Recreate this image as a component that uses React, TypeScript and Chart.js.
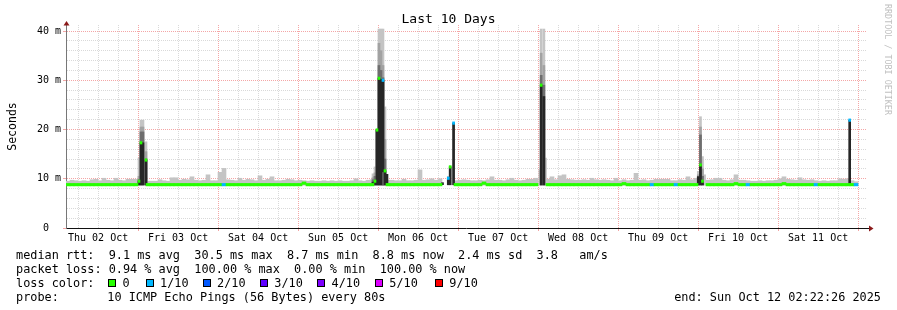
import React, { useEffect, useRef } from "react";
import { Chart, registerables } from "chart.js";

Chart.register(...registerables);

// ---------- time axis: hours since Thu 02 Oct 00:00 ----------
const startHour = 2.374; // Thu Oct 02 02:22:26 2025
const endHour = 242.374; // Sun Oct 12 02:22:26 2025
const bucketHours = 1.2;

const dayLabels = [
  "Thu 02 Oct", "Fri 03 Oct", "Sat 04 Oct", "Sun 05 Oct", "Mon 06 Oct",
  "Tue 07 Oct", "Wed 08 Oct", "Thu 09 Oct", "Fri 10 Oct", "Sat 11 Oct",
];
const dayLabelHours = [12, 36, 60, 84, 108, 132, 156, 180, 204, 228];
const gridHours = [
  6, 12, 18, 24, 30, 36, 42, 48, 54, 60, 66, 72, 78, 84, 90, 96, 102, 108, 114, 120,
  126, 132, 138, 144, 150, 156, 162, 168, 174, 180, 186, 192, 198, 204, 210, 216, 222, 228, 234, 240,
];
const majorGridHours = [24, 48, 72, 96, 120, 144, 168, 192, 216, 240];

const yGridValues = [0, 2, 4, 6, 8, 10, 12, 14, 16, 18, 20, 22, 24, 26, 28, 30, 32, 34, 36, 38, 40];
const yLabelValues = [0, 10, 20, 30, 40];
const yLabels = ["0  ", "10 m", "20 m", "30 m", "40 m"];
const yMax = 41.22;

// ---------- smoke / median per 1.2 h bucket (ms) ----------
const minRtt = 8.7;
const smokeTop = [
  9.5, 9.7, 9.6, 9.5, 9.6, 9.5, 9.8, 9.9, 9.6, 10.1,
  9.7, 9.6, 10.1, 9.7, 9.6, 9.9, 9.9, 9.9, null, null,
  9.5, 9.5, 9.5, 9.8, 9.6, 9.5, 10.2, 10.2, 9.7, 9.9,
  9.8, 10.4, 9.7, 9.6, 9.7, 10.8, 9.6, 9.6, 11.3, 12.1,
  9.8, 9.7, 9.6, 10.1, 9.7, 9.9, 9.8, 9.6, 10.6, 9.7,
  9.9, 10.4, 9.6, 9.6, 9.7, 9.9, 9.8, 9.6, 9.7, 9.6,
  9.5, 9.6, 9.5, 9.5, 9.6, 9.5, 9.6, 9.5, 9.6, 9.5,
  9.5, 9.6, 10.0, 9.6, 9.5, 9.7, 9.8, null, null, null,
  9.7, 9.7, 9.6, 9.6, 9.9, 9.6, 9.6, 9.7, 11.8, 9.7,
  9.8, 10.0, 9.7, 10.0, null, null, null, 9.6, 9.7, 9.8,
  9.7, 9.6, 9.6, 9.7, 9.6, 9.8, 10.4, 9.7, 9.7, 9.6,
  9.8, 10.1, 9.7, 9.6, 9.7, 9.9, 9.9, 10.1, null, null,
  9.9, 10.4, 9.8, 10.6, 10.8, 9.9, 9.8, 9.7, 9.7, 9.8,
  9.7, 10.1, 9.8, 9.7, 9.8, 9.7, 9.6, 10.1, 9.6, 9.8,
  9.6, 9.7, 11.1, 9.7, 9.8, 9.6, 9.7, 9.9, 9.9, 9.9,
  9.9, 9.6, 9.6, 9.8, 9.7, 10.4, 9.8, 10.1, null, null,
  9.7, 9.8, 10.1, 10.1, 9.7, 9.6, 9.8, 10.8, 9.7, 9.7,
  9.6, 9.5, 9.5, 9.6, 9.5, 9.6, 9.6, 9.7, 10.0, 10.4,
  9.9, 9.8, 9.7, 10.2, 9.8, 9.7, 9.8, 9.6, 9.5, 9.6,
  9.5, 9.6, 9.6, 10.0, 9.9, 10.0, 9.6, 9.4,
];
const medianRtt = [
  8.8, 8.8, 8.8, 8.8, 8.8, 8.8, 8.8, 8.8, 8.8, 8.8,
  8.8, 8.8, 8.8, 8.8, 8.8, 8.8, 8.8, 8.8, null, null,
  8.8, 8.8, 8.8, 8.8, 8.8, 8.8, 8.8, 8.8, 8.8, 8.8,
  8.8, 8.8, 8.8, 8.8, 8.8, 8.8, 8.8, 8.8, 8.8, 8.8,
  8.8, 8.8, 8.8, 8.8, 8.8, 8.8, 8.8, 8.8, 8.8, 8.8,
  8.8, 8.8, 8.8, 8.8, 8.8, 8.8, 8.8, 8.8, 8.8, 9.1,
  8.8, 8.8, 8.8, 8.8, 8.8, 8.8, 8.8, 8.8, 8.8, 8.8,
  8.8, 8.8, 8.8, 8.8, 8.8, 8.8, 8.8, null, null, null,
  8.8, 8.8, 8.8, 8.8, 8.8, 8.8, 8.8, 8.8, 8.8, 8.8,
  8.8, 8.8, 8.8, 8.8, null, null, null, 8.8, 8.8, 8.8,
  8.8, 8.8, 8.8, 8.8, 9.1, 8.8, 8.8, 8.8, 8.8, 8.8,
  8.8, 8.8, 8.8, 8.8, 8.8, 8.8, 8.8, 8.8, null, null,
  8.8, 8.8, 8.8, 8.8, 8.8, 8.8, 8.8, 8.8, 8.8, 8.8,
  8.8, 8.8, 8.8, 8.8, 8.8, 8.8, 8.8, 8.8, 8.8, 9.0,
  8.8, 8.8, 8.8, 8.8, 8.8, 8.8, 8.8, 8.8, 8.8, 8.8,
  8.8, 8.8, 8.8, 8.8, 8.8, 8.8, 8.8, 8.8, null, null,
  8.8, 8.8, 8.8, 8.8, 8.8, 8.8, 8.8, 9.0, 8.8, 8.8,
  8.8, 8.8, 8.8, 8.8, 8.8, 8.8, 8.8, 8.8, 8.8, 9.0,
  8.8, 8.8, 8.8, 8.8, 8.8, 8.8, 8.8, 8.8, 8.8, 8.8,
  8.8, 8.8, 8.8, 8.8, 8.8, 8.8, 8.8, 8.8,
];
const lossCount = [
  0, 0, 0, 0, 0, 0, 0, 0, 0, 0,
  0, 0, 0, 0, 0, 0, 0, 0, 0, 0,
  0, 0, 0, 0, 0, 0, 0, 0, 0, 0,
  0, 0, 0, 0, 0, 0, 0, 0, 0, 1,
  0, 0, 0, 0, 0, 0, 0, 0, 0, 0,
  0, 0, 0, 0, 0, 0, 0, 0, 0, 0,
  0, 0, 0, 0, 0, 0, 0, 0, 0, 0,
  0, 0, 0, 0, 0, 0, 0, 0, 0, 0,
  0, 0, 0, 0, 0, 0, 0, 0, 0, 0,
  0, 0, 0, 0, 0, 0, 0, 0, 0, 0,
  0, 0, 0, 0, 0, 0, 0, 0, 0, 0,
  0, 0, 0, 0, 0, 0, 0, 0, 0, 0,
  0, 0, 0, 0, 0, 0, 0, 0, 0, 0,
  0, 0, 0, 0, 0, 0, 0, 0, 0, 0,
  0, 0, 0, 0, 0, 0, 1, 0, 0, 0,
  0, 0, 1, 0, 0, 0, 0, 0, 0, 0,
  0, 0, 0, 0, 0, 0, 0, 0, 0, 0,
  1, 0, 0, 0, 0, 0, 0, 0, 0, 0,
  0, 0, 0, 0, 0, 0, 0, 1, 0, 0,
  0, 0, 0, 0, 0, 0, 0, 1,
];

// ---------- latency spikes (fine columns) ----------
const spikeHours = [
  24.27, 24.87, 25.47, 26.37,
  94.47, 95.07, 95.67, 96.27, 96.87, 97.47, 98.07, 98.67,
  115.32, 117.06, 117.63, 118.65,
  144.51, 144.93, 145.74, 146.22,
  192.06, 192.72, 193.32, 193.95,
  237.48,
];
const spikeLightTop = [
  14.2, 21.9, 21.9, 17.5,
  11.0, 12.4, 19.9, 40.4, 40.4, 40.4, 24.6, 9.6,
  null, 10.5, 12.6, 21.3,
  11.8, 40.4, 40.4, 14.2,
  11.5, 22.6, 14.5, 10.8,
  null,
];
const spikeMidTop = [
  10.5, 20.5, 20.5, 15.5,
  10.2, 11.2, 19.9, 37.5, 36.0, 33.0, 18.0, null,
  null, null, null, null,
  null, 35.5, 33.0, null,
  10.8, 20.5, 12.0, null,
  null,
];
const spikeDarkTop = [
  9.8, 19.5, 19.5, 14.0,
  9.8, 10.5, 19.9, 33.0, 32.0, 30.5, 14.0, null,
  null, null, null, null,
  null, 31.0, 29.0, null,
  10.5, 18.9, 10.5, null,
  null,
];
const spikeCoreLow = [
  8.8, 8.8, 8.8, 8.8,
  8.8, 8.8, 8.8, 8.8, 8.8, 11.4, 8.8, 8.8,
  8.8, 8.8, 8.8, 8.8,
  null, 8.8, 8.8, null,
  8.8, 8.8, 8.8, null,
  8.8,
];
const spikeMedian = [
  9.5, 17.3, 17.3, 13.8,
  9.3, 9.5, 19.9, 30.4, 30.2, 30.0, 11.6, 10.9,
  9.2, 10.1, 12.4, 21.3,
  null, 29.0, 26.7, null,
  10.4, 12.8, 9.5, null,
  21.9,
];
const spikeLoss = [
  0, 0, null, 0,
  null, 0, 0, 0, null, 1, 0, null,
  null, 1, 0, 1,
  null, 0, null, null,
  null, 0, 0, null,
  1,
];

// ---------- legend ----------
const statLines = [
  "median rtt:  9.1 ms avg  30.5 ms max  8.7 ms min  8.8 ms now  2.4 ms sd  3.8   am/s",
  "packet loss: 0.94 % avg  100.00 % max  0.00 % min  100.00 % now",
];
const lossLegendLabels = ["0", "1/10", "2/10", "3/10", "4/10", "5/10", "9/10"];
const lossLegendColors = ["#26ff00", "#00b8ff", "#0059ff", "#5e00ff", "#7e00ff", "#dd00ff", "#ff0000"];
const probeText = "10 ICMP Echo Pings (56 Bytes) every 80s";
const endText = "end: Sun Oct 12 02:22:26 2025";
const titleText = "Last 10 Days";
const yAxisTitle = "Seconds";
const watermark = "RRDTOOL / TOBI OETIKER";

const MONO = '"DejaVu Sans Mono", monospace';
const MAJOR_GRID = "#f4a6a6";
const MINOR_GRID = "#d9d9d9";

function lossColor(n: number | null | undefined): string {
  if (n == null) return lossLegendColors[0];
  return lossLegendColors[n <= 5 ? n : 6];
}

function buildDatasets() {
  const bucketX = smokeTop.map((_, i) => startHour + bucketHours * (i + 0.5));
  const smoke = smokeTop
    .map((v, i) => (v == null ? null : { x: bucketX[i], y: [minRtt, v] }))
    .filter(Boolean);
  const median = medianRtt
    .map((v, i) => (v == null ? null : { x: bucketX[i], y: [v - 0.25, v + 0.25], loss: lossCount[i] }))
    .filter(Boolean);
  const col = (tops: (number | null)[]) =>
    tops.map((v, i) => (v == null ? null : { x: spikeHours[i], y: [minRtt, v] })).filter(Boolean);
  const core = spikeMedian
    .map((v, i) =>
      v == null || spikeCoreLow[i] == null ? null : { x: spikeHours[i], y: [spikeCoreLow[i], v] }
    )
    .filter(Boolean);
  const dots = spikeMedian
    .map((v, i) =>
      v == null || spikeLoss[i] == null ? null : { x: spikeHours[i], y: [v - 0.25, v + 0.25], loss: spikeLoss[i] }
    )
    .filter(Boolean);

  const common = { grouped: false, borderWidth: 0 };
  return [
    { label: "smoke", data: smoke, backgroundColor: "#c4c4c4", barThickness: 4, order: 7, ...common },
    { label: "spike smoke", data: col(spikeLightTop), backgroundColor: "#c4c4c4", barThickness: 2, order: 6, ...common },
    { label: "spike smoke mid", data: col(spikeMidTop), backgroundColor: "#a2a2a2", barThickness: 2, order: 5, ...common },
    { label: "spike smoke dark", data: col(spikeDarkTop), backgroundColor: "#6e6e6e", barThickness: 2, order: 4, ...common },
    { label: "spike core", data: core, backgroundColor: "#262626", barThickness: 2, order: 3, ...common },
    {
      label: "median",
      data: median,
      backgroundColor: (c: any) => lossColor(c.raw ? c.raw.loss : 0),
      barThickness: 4,
      order: 2,
      ...common,
    },
    {
      label: "spike median",
      data: dots,
      backgroundColor: (c: any) => lossColor(c.raw ? c.raw.loss : 0),
      barThickness: 2,
      order: 1,
      ...common,
    },
  ];
}

const decorations = {
  id: "decorations",
  afterDraw(chart: any) {
    const { ctx, chartArea } = chart;
    const L = chartArea.left;
    const B = chartArea.bottom;
    ctx.save();
    // axis extension + arrows
    ctx.strokeStyle = "#111";
    ctx.lineWidth = 1;
    ctx.beginPath();
    ctx.moveTo(chartArea.right, B + 0.5);
    ctx.lineTo(chartArea.right + 3, B + 0.5);
    ctx.stroke();
    ctx.fillStyle = "#8b1a1a";
    ctx.beginPath();
    ctx.moveTo(L - 2.5, chartArea.top + 0.5);
    ctx.lineTo(L + 3.5, chartArea.top + 0.5);
    ctx.lineTo(L + 0.5, chartArea.top - 4);
    ctx.closePath();
    ctx.fill();
    ctx.beginPath();
    ctx.moveTo(chartArea.right + 3, B - 2.5);
    ctx.lineTo(chartArea.right + 3, B + 3.5);
    ctx.lineTo(chartArea.right + 7.5, B + 0.5);
    ctx.closePath();
    ctx.fill();

    // title
    ctx.fillStyle = "#000";
    ctx.textBaseline = "alphabetic";
    ctx.font = `13px ${MONO}`;
    ctx.textAlign = "center";
    ctx.fillText(titleText, 448.5, 23);

    // y axis title
    ctx.save();
    ctx.translate(15.5, (chartArea.top + chartArea.bottom) / 2);
    ctx.rotate(-Math.PI / 2);
    ctx.font = `11.5px ${MONO}`;
    ctx.textAlign = "center";
    ctx.fillText(yAxisTitle, 0, 0);
    ctx.restore();

    // watermark
    ctx.save();
    ctx.translate(885, 4);
    ctx.rotate(Math.PI / 2);
    ctx.font = `8.4px ${MONO}`;
    ctx.fillStyle = "#c0c0c0";
    ctx.textAlign = "left";
    ctx.fillText(watermark, 0, 0);
    ctx.restore();

    // legend
    ctx.font = `11.85px ${MONO}`;
    ctx.fillStyle = "#000";
    ctx.textAlign = "left";
    ctx.fillText(statLines[0], 16, 258.5);
    ctx.fillText(statLines[1], 16, 272.5);
    ctx.fillText("loss color:", 16, 286.5);
    const boxX = [108.3, 145.7, 202.7, 260, 317.3, 375, 435];
    lossLegendLabels.forEach((lab, i) => {
      const bx = Math.round(boxX[i]);
      ctx.fillStyle = lossLegendColors[i];
      ctx.fillRect(bx, 279, 8, 8);
      ctx.strokeStyle = "#000";
      ctx.lineWidth = 1;
      ctx.strokeRect(bx + 0.5, 279.5, 7, 7);
      ctx.fillStyle = "#000";
      ctx.fillText(lab, boxX[i] + 14.3, 286.5);
    });
    ctx.fillText("probe:", 16, 300.5);
    ctx.fillText(probeText, 107.3, 300.5);
    ctx.textAlign = "right";
    ctx.fillText(endText, 881, 300.5);
    ctx.restore();
  },
};

export default function App() {
  const ref = useRef<HTMLCanvasElement>(null);
  useEffect(() => {
    const canvas = ref.current;
    if (!canvas) return;
    const chart = new Chart(canvas, {
      type: "bar",
      data: { datasets: buildDatasets() as any },
      options: {
        animation: false,
        responsive: false,
        devicePixelRatio: 1,
        events: [],
        layout: { padding: { left: 0, right: 31, top: 25, bottom: 0 } },
        plugins: { legend: { display: false }, tooltip: { enabled: false }, title: { display: false } },
        scales: {
          x: {
            type: "linear",
            min: startHour,
            max: endHour,
            offset: false,
            afterBuildTicks: (s: any) => {
              s.ticks = gridHours.map((v) => ({ value: v }));
            },
            afterFit: (s: any) => {
              s.height = 82;
            },
            grid: {
              offset: false,
              lineWidth: 1,
              color: (c: any) => (c.tick && majorGridHours.includes(c.tick.value) ? MAJOR_GRID : MINOR_GRID),
              tickColor: (c: any) => (c.tick && majorGridHours.includes(c.tick.value) ? MAJOR_GRID : "rgba(0,0,0,0)"),
              tickLength: 3,
            },
            border: { display: true, color: "#111", width: 1, dash: [1, 1] },
            ticks: {
              autoSkip: false,
              maxRotation: 0,
              minRotation: 0,
              padding: 1,
              color: "#000",
              font: { family: MONO, size: 10 },
              callback: (v: any) => {
                const k = dayLabelHours.indexOf(Number(v));
                return k >= 0 ? dayLabels[k] : "";
              },
            },
          },
          y: {
            type: "linear",
            min: 0,
            max: yMax,
            afterBuildTicks: (s: any) => {
              s.ticks = yGridValues.map((v) => ({ value: v }));
            },
            afterFit: (s: any) => {
              s.width = 66;
            },
            grid: {
              lineWidth: 1,
              color: (c: any) => (c.tick && yLabelValues.includes(c.tick.value) ? MAJOR_GRID : MINOR_GRID),
              tickColor: (c: any) => (c.tick && yLabelValues.includes(c.tick.value) ? MAJOR_GRID : "rgba(0,0,0,0)"),
              tickLength: 3,
            },
            border: { display: true, color: "#777", width: 1, dash: [1, 1] },
            ticks: {
              autoSkip: false,
              padding: 2,
              color: "#000",
              font: { family: MONO, size: 10 },
              callback: (v: any) => {
                const k = yLabelValues.indexOf(Number(v));
                return k >= 0 ? yLabels[k] : "";
              },
            },
          },
        },
      },
      plugins: [decorations],
    } as any);
    return () => chart.destroy();
  }, []);
  return (
    <div style={{ position: "absolute", left: 0, top: 0, width: 897, height: 310, background: "#fff" }}>
      <canvas ref={ref} width={897} height={310} style={{ display: "block", width: 897, height: 310 }} />
    </div>
  );
}
